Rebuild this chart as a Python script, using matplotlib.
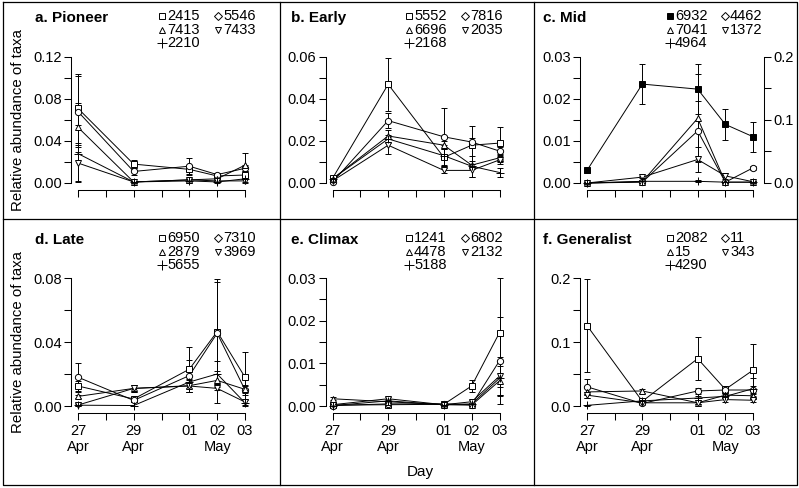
import numpy as np
from matplotlib import pyplot as plt
from matplotlib.lines import Line2D

plt.rcParams['font.family'] = ['Liberation Sans', 'DejaVu Sans']

W, H = 799, 488

days = [0, 2, 4, 5, 6]
day_ticks = [0, 1, 2, 3, 4, 5, 6]
day_labels = ['27\nApr', '', '29\nApr', '', '01', '02\nMay', '03']

# a. Pioneer
pioneer_ids = ['2415', '5546', '7413', '7433', '2210']
pioneer_vals = [[0.071, 0.018, 0.013, 0.0067, 0.0076],
                [0.068, 0.011, 0.016, 0.008, 0.014],
                [0.053, 0.001, 0.003, 0.004, 0.017],
                [0.019, 0.001, 0.003, 0.002, 0.002],
                [0.028, 0.001, 0.002, 0.001, 0.004]]
pioneer_errs = [[0.033, 0.004, 0.004, 0.002, 0.004],
                [0.034, 0.003, 0.008, 0.002, 0.003],
                [0.023, 0.001, 0.002, 0.002, 0.012],
                [0.017, 0.001, 0.001, 0.001, 0.002],
                [0.027, 0.001, 0.002, 0.001, 0.003]]

# b. Early
early_ids = ['5552', '7816', '6696', '2035', '2168']
early_vals = [[0.0022, 0.047, 0.0122, 0.018, 0.019],
              [0.0005, 0.0297, 0.022, 0.0195, 0.0152],
              [0.002, 0.0224, 0.018, 0.0085, 0.012],
              [0.001, 0.018, 0.006, 0.006, 0.011],
              [0.002, 0.021, 0.013, 0.008, 0.005]]
early_errs = [[0.001, 0.0125, 0.004, 0.009, 0.0075],
              [0.001, 0.0035, 0.0135, 0.002, 0.002],
              [0.001, 0.003, 0.002, 0.002, 0.002],
              [0.001, 0.004, 0.001, 0.003, 0.002],
              [0.001, 0.002, 0.005, 0.005, 0.002]]

# c. Mid (6932 on right axis)
mid_ids = ['6932', '4462', '7041', '1372', '4964']
mid_vals = [[0.02, 0.157, 0.149, 0.093, 0.0735],
            [0.0, 0.0002, 0.0124, 0.0002, 0.0036],
            [0.0, 0.0003, 0.0154, 0.0002, 0.0002],
            [0.0, 0.0014, 0.0056, 0.0017, 0.0003],
            [0.0, 0.0004, 0.0004, 0.0002, 0.0002]]
mid_errs = [[0.004, 0.032, 0.04, 0.025, 0.024],
            [0.0, 0.0002, 0.0072, 0.0002, 0.0005],
            [0.0, 0.0003, 0.0105, 0.0002, 0.0002],
            [0.0, 0.0002, 0.003, 0.0008, 0.0002],
            [0.0, 0.0002, 0.0002, 0.0002, 0.0002]]

# d. Late
late_ids = ['6950', '7310', '2879', '3969', '5655']
late_vals = [[0.0125, 0.0044, 0.023, 0.0465, 0.018],
             [0.018, 0.0035, 0.019, 0.0455, 0.010],
             [0.006, 0.011, 0.0127, 0.016, 0.0104],
             [0.0006, 0.011, 0.0125, 0.011, 0.0025],
             [0.0005, 0.0003, 0.015, 0.020, 0.002]]
late_errs = [[0.003, 0.001, 0.014, 0.033, 0.016],
             [0.009, 0.001, 0.010, 0.032, 0.003],
             [0.001, 0.002, 0.004, 0.006, 0.002],
             [0.001, 0.002, 0.004, 0.009, 0.002],
             [0.0005, 0.002, 0.004, 0.008, 0.002]]

# e. Climax
climax_ids = ['1241', '6802', '4478', '2132', '5188']
climax_vals = [[0.0002, 0.0003, 0.0004, 0.0047, 0.0172],
               [0.0001, 0.0005, 0.0005, 0.0003, 0.0106],
               [0.0017, 0.001, 0.0003, 0.0002, 0.0059],
               [0.0003, 0.0017, 0.0003, 0.001, 0.007],
               [0.0001, 0.0012, 0.0003, 0.0005, 0.0065]]
climax_errs = [[0.0002, 0.0003, 0.0003, 0.0015, 0.0128],
               [0.0001, 0.0003, 0.0003, 0.0003, 0.0102],
               [0.0003, 0.0005, 0.0002, 0.0002, 0.0035],
               [0.0002, 0.0005, 0.0002, 0.0005, 0.0045],
               [0.0001, 0.0005, 0.0002, 0.0003, 0.004]]

# f. Generalist
general_ids = ['2082', '11', '15', '343', '4290']
general_vals = [[0.1257, 0.0073, 0.074, 0.026, 0.056],
                [0.030, 0.004, 0.0235, 0.025, 0.025],
                [0.022, 0.0235, 0.005, 0.017, 0.016],
                [0.017, 0.005, 0.005, 0.010, 0.009],
                [0.001, 0.008, 0.0125, 0.015, 0.027]]
general_errs = [[0.072, 0.003, 0.034, 0.006, 0.041],
                [0.012, 0.002, 0.004, 0.004, 0.006],
                [0.010, 0.003, 0.002, 0.003, 0.004],
                [0.005, 0.002, 0.002, 0.003, 0.003],
                [0.001, 0.002, 0.003, 0.003, 0.016]]

plot_markers = ['s', 'o', '^', 'v', '+']
legend_markers = ['s', 'D', '^', 'v', '+']


def fx(x):
    return x / W


def fy(y):
    return 1 - y / H


def make_axes(fig, d0, d6, y0, ytop, ymax):
    ppd = (d6 - d0) / 6.0
    ppu = (y0 - ytop) / ymax
    ax = fig.add_axes([fx(d0 - 7), fy(y0 + 7), (d6 - d0 + 14) / W, (y0 - ytop + 14) / H])
    ax.set_xlim(-7 / ppd, 6 + 7 / ppd)
    ax.set_ylim(-7 / ppu, ymax + 7 / ppu)
    ax.patch.set_alpha(0)
    for s in ['top', 'right']:
        ax.spines[s].set_visible(False)
    ax.spines['left'].set_bounds(0, ymax)
    ax.spines['bottom'].set_bounds(0, 6)
    for s in ['left', 'bottom']:
        ax.spines[s].set_linewidth(0.75)
    ax.tick_params(length=5, width=0.75, labelsize=10.5, direction='out')
    ax.tick_params(axis='y', pad=1.5)
    ax.tick_params(axis='x', pad=3)
    return ax


def set_yticks(ax, step, nlab, fmt):
    ticks = np.arange(0, nlab * step * 2 + step / 2, step)
    ax.set_yticks(ticks)
    ax.set_yticklabels([fmt % t if i % 2 == 0 else '' for i, t in enumerate(ticks)])


def draw_series(ax, vals, errs, marker, filled=False):
    v = np.array(vals)
    e = np.array(errs)
    lo = np.minimum(e, v)
    ax.errorbar(days, v, yerr=[lo, e], fmt='none', ecolor='black',
                elinewidth=0.7, capsize=2.5, capthick=0.7, zorder=2)
    ax.plot(days, v, color='black', lw=0.7, zorder=3)
    ax.plot(days, v, ls='none', marker=marker, ms=4.5 if marker != '+' else 6,
            mec='black', mew=0.7, mfc='black' if filled else 'white', zorder=4)


def draw_legend(fig, x1, x2, rows, ids, first_filled=False):
    pos = [(x1, rows[0]), (x2, rows[0]), (x1, rows[1]), (x2, rows[1]), (x1, rows[2])]
    for i, (name, (x, y)) in enumerate(zip(ids, pos)):
        m = legend_markers[i]
        filled = first_filled and i == 0
        fig.add_artist(Line2D([fx(x)], [fy(y)], ls='none', marker=m,
                              ms=4 if m != '+' else 6.5, mew=0.7, mec='black',
                              mfc='black' if filled else 'white'))
        fig.text(fx(x + 5), fy(y), name, fontsize=10.5, va='center', ha='left')


fig = plt.figure(figsize=(W / 100, H / 100), dpi=100)

# panel frames
frame = dict(color='black', lw=0.9)
fig.add_artist(Line2D([fx(3), fx(797), fx(797), fx(3), fx(3)],
                      [fy(2), fy(2), fy(485), fy(485), fy(2)], **frame))
fig.add_artist(Line2D([fx(3), fx(797)], [fy(219), fy(219)], **frame))
fig.add_artist(Line2D([fx(280), fx(280)], [fy(2), fy(485)], **frame))
fig.add_artist(Line2D([fx(534), fx(534)], [fy(2), fy(485)], **frame))

cols = [(78, 245), (332.5, 499.5), (587, 753)]
top_row = (183, 57)
bot_row = (406, 278)

panels = [
    ('a. Pioneer', pioneer_ids, pioneer_vals, pioneer_errs, 0.12, 0.02, '%.2f', 0, top_row),
    ('b. Early', early_ids, early_vals, early_errs, 0.06, 0.01, '%.2f', 1, top_row),
    ('c. Mid', mid_ids, mid_vals, mid_errs, 0.03, 0.005, '%.2f', 2, top_row),
    ('d. Late', late_ids, late_vals, late_errs, 0.08, 0.02, '%.2f', 0, bot_row),
    ('e. Climax', climax_ids, climax_vals, climax_errs, 0.03, 0.005, '%.2f', 1, bot_row),
    ('f. Generalist', general_ids, general_vals, general_errs, 0.2, 0.05, '%.1f', 2, bot_row),
]

title_x = [35, 291, 543]
legend_x = [(162, 218), (409, 465), (670, 725)]

for title, ids, vals, errs, ymax, step, fmt, col, row in panels:
    d0, d6 = cols[col]
    y0, ytop = row
    ax = make_axes(fig, d0, d6, y0, ytop, ymax)
    set_yticks(ax, step, int(round(ymax / step / 2)), fmt)
    ax.set_xticks(day_ticks)
    bottom = row is bot_row
    if bottom:
        ax.set_xticklabels(day_labels, fontsize=10.5, linespacing=1.15)
    else:
        ax.set_xticklabels([''] * len(day_ticks))

    start = 0
    if title == 'c. Mid':
        ax2 = ax.twinx()
        ppu = (y0 - ytop) / 0.2
        ax2.set_ylim(-7 / ppu, 0.2 + 7 / ppu)
        ax2.set_xlim(ax.get_xlim())
        for s in ['top', 'left', 'bottom']:
            ax2.spines[s].set_visible(False)
        ax2.spines['right'].set_bounds(0, 0.2)
        ax2.spines['right'].set_position(('outward', 3))
        ax2.spines['right'].set_linewidth(0.75)
        ax2.set_yticks([0, 0.05, 0.1, 0.15, 0.2])
        ax2.set_yticklabels(['0.0', '', '0.1', '', '0.2'])
        ax2.tick_params(length=5, width=0.75, labelsize=10.5, pad=1.5)
        draw_series(ax2, vals[0], errs[0], 's', filled=True)
        start = 1
    for i in range(start, 5):
        draw_series(ax, vals[i], errs[i], plot_markers[i])

    ty = 18 if row is top_row else 240
    fig.text(fx(title_x[col]), fy(ty), title, fontsize=11, fontweight='bold',
             va='center', ha='left')
    rows_y = [16, 29.5, 43] if row is top_row else [238, 251.5, 265]
    draw_legend(fig, legend_x[col][0], legend_x[col][1], rows_y, ids,
                first_filled=(title == 'c. Mid'))

fig.text(fx(18), fy(120), 'Relative abundance of taxa', rotation=90,
         fontsize=10.8, va='center', ha='center')
fig.text(fx(18), fy(342), 'Relative abundance of taxa', rotation=90,
         fontsize=10.8, va='center', ha='center')
fig.text(fx(420), fy(472), 'Day', fontsize=11, va='center', ha='center')

fig.savefig('out.png', dpi=100)
